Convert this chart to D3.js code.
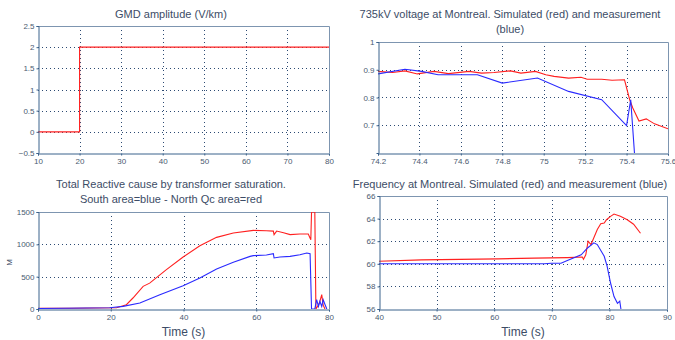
<!DOCTYPE html>
<html>
<head>
<meta charset="utf-8">
<script src="https://cdn.jsdelivr.net/npm/d3@7"></script>
<style>
  body { margin: 0; background: #fff; }
  svg { font-family: "Liberation Sans", Arial, sans-serif; }
  .tick text { fill: #4a5a70; font-size: 8px; }
  .title { fill: #3c4c66; font-size: 11px; }
  .xlabel { fill: #3c4c66; font-size: 12px; }
</style>
</head>
<body>
<div id="chart-area"></div>
<script>
// GMD amplitude (V/km)
var gmdTime = [10, 20, 20, 80];
var gmdValue = [0, 0, 2, 2];

// 735kV voltage at Montreal
var voltSimTime = [74.2, 74.27, 74.33, 74.39, 74.47, 74.54, 74.64, 74.7, 74.76, 74.84, 74.89, 74.96, 75.01, 75.05, 75.12, 75.18, 75.21, 75.28, 75.33, 75.39, 75.415, 75.43, 75.46, 75.495, 75.535, 75.6];
var voltSimValue = [0.894, 0.89, 0.896, 0.885, 0.894, 0.886, 0.894, 0.888, 0.89, 0.896, 0.888, 0.894, 0.882, 0.876, 0.87, 0.873, 0.866, 0.866, 0.862, 0.864, 0.792, 0.762, 0.715, 0.723, 0.705, 0.687];
var voltMeasTime = [74.2, 74.33, 74.41, 74.49, 74.68, 74.8, 74.97, 75.12, 75.28, 75.4, 75.42, 75.44];
var voltMeasValue = [0.885, 0.902, 0.894, 0.882, 0.882, 0.852, 0.87, 0.822, 0.792, 0.699, 0.792, 0.58];

// Total reactive power (Mvar)
var qNorthTime = [0, 9, 21.6, 24.3, 26.1, 28.9, 30.7, 35.3, 39.9, 44.5, 49.1, 53.7, 59.2, 62.8, 64.7, 64.9, 65.6, 67.5, 69.3, 72, 74.3, 75, 75.2, 76.1, 76.4, 77.1, 77.5, 78, 78.4, 78.9];
var qNorthValue = [12, 12, 20, 67, 170, 350, 400, 608, 804, 979, 1108, 1175, 1216, 1210, 1205, 1150, 1205, 1180, 1150, 1160, 1160, 1072, 1500, 1500, 0, 60, 118, 222, 60, 0];
var qSouthTime = [0, 19.7, 23.4, 28, 33.5, 39.9, 44.5, 49.1, 53.7, 58.3, 59.2, 62.8, 64.7, 64.9, 66.5, 69.3, 72, 73.9, 74.8, 75.2, 76.1, 76.6, 77.1, 77.5, 78, 78.4, 78.9, 79.4];
var qSouthValue = [8, 20, 40, 93, 222, 361, 480, 619, 722, 814, 825, 835, 856, 789, 804, 814, 840, 866, 855, 0, 0, 144, 40, 118, 40, 144, 70, 0];

// Frequency at Montreal
var freqSimTime = [40, 47.4, 60.7, 67, 72.7, 75.3, 75.5, 75.9, 76.3, 76.8, 77.3, 77.9, 78.5, 79.1, 79.5, 80.2, 80.8, 81.9, 83.1, 84.2, 85.4];
var freqSimValue = [60.23, 60.35, 60.44, 60.5, 60.55, 60.6, 60.4, 60.8, 62, 61.7, 62.3, 63.04, 63.54, 63.6, 63.9, 64.2, 64.4, 64.2, 63.9, 63.5, 62.7];
var freqMeasTime = [40, 68.7, 69.9, 71.6, 72.7, 75.1, 76.2, 77.3, 77.9, 79.1, 79.6, 80.2, 80.8, 81.4, 81.8, 82];
var freqMeasValue = [60, 60, 60.05, 60.05, 60.3, 60.8, 61.4, 61.86, 61.7, 60.67, 59.8, 58.3, 57.1, 56.5, 56.7, 56];

var gmdXTicks = [10, 20, 30, 40, 50, 60, 70, 80];
var gmdYTicks = [-0.5, 0, 0.5, 1, 1.5, 2, 2.5];
var voltXTicks = [74.2, 74.4, 74.6, 74.8, 75, 75.2, 75.4, 75.6];
var voltYTicks = [0.7, 0.8, 0.9, 1];
var qXTicks = [0, 20, 40, 60, 80];
var qYTicks = [0, 500, 1000, 1500];
var freqXTicks = [40, 50, 60, 70, 80, 90];
var freqYTicks = [56, 58, 60, 62, 64, 66];

var svg = d3.select("#chart-area")
    .append("svg")
    .attr("width", 675)
    .attr("height", 340);

var axisColor = "#3b628c";
var gridColor = "#2c4a73";

function panel(opt) {
    var x = d3.scaleLinear().domain(opt.xDomain).range([opt.left, opt.right]);
    var y = d3.scaleLinear().domain(opt.yDomain).range([opt.bottom, opt.top]);

    var clipId = "clip" + opt.id;
    svg.append("clipPath").attr("id", clipId)
        .append("rect")
        .attr("x", opt.left).attr("y", opt.top)
        .attr("width", opt.right - opt.left).attr("height", opt.bottom - opt.top);

    // grid
    var grid = svg.append("g");
    grid.selectAll(".vg")
        .data(opt.xTicks.filter(function(t) { return t > opt.xDomain[0] && t < opt.xDomain[1]; }))
        .enter().append("line")
        .attr("x1", function(d) { return Math.round(x(d)) + 0.5; })
        .attr("x2", function(d) { return Math.round(x(d)) + 0.5; })
        .attr("y1", opt.top).attr("y2", opt.bottom)
        .attr("stroke", gridColor).attr("stroke-dasharray", "1,3");
    grid.selectAll(".hg")
        .data(opt.yTicks.filter(function(t) { return t > opt.yDomain[0] && t < opt.yDomain[1]; }))
        .enter().append("line")
        .attr("y1", function(d) { return Math.round(y(d)) + 0.5; })
        .attr("y2", function(d) { return Math.round(y(d)) + 0.5; })
        .attr("x1", opt.left).attr("x2", opt.right)
        .attr("stroke", gridColor).attr("stroke-dasharray", "1,3");

    // frame top/right
    svg.append("path")
        .attr("d", "M" + opt.left + "," + (opt.top + 0.5) + "H" + (opt.right + 0.5) + "V" + opt.bottom)
        .attr("fill", "none").attr("stroke", "#7d95b0");

    // series
    opt.series.forEach(function(s) {
        var line = d3.line()
            .x(function(d) { return x(d[0]); })
            .y(function(d) { return y(d[1]); });
        svg.append("path")
            .datum(d3.zip(s.t, s.v))
            .attr("clip-path", "url(#" + clipId + ")")
            .attr("fill", "none")
            .attr("stroke", s.color)
            .attr("stroke-width", 1.1)
            .attr("d", line);
    });

    // axes
    var xAxis = svg.append("g")
        .attr("transform", "translate(0," + (opt.bottom + 0.5) + ")")
        .call(d3.axisBottom(x).tickValues(opt.xTicks).tickSize(2).tickPadding(3).tickFormat(d3.format("")));
    var yAxis = svg.append("g")
        .attr("transform", "translate(" + (opt.left + 0.5) + ",0)")
        .call(d3.axisLeft(y).tickValues(opt.yTicks).tickSize(2).tickPadding(2).tickFormat(d3.format("")));
    [xAxis, yAxis].forEach(function(a) {
        a.select(".domain").attr("stroke", axisColor);
        a.selectAll(".tick line").attr("stroke", axisColor);
    });

    // titles
    opt.title.forEach(function(t, i) {
        svg.append("text")
            .attr("class", "title")
            .attr("x", opt.titleX)
            .attr("y", opt.titleY + i * 15)
            .attr("text-anchor", "middle")
            .text(t);
    });
    if (opt.xLabel) {
        svg.append("text")
            .attr("class", "xlabel")
            .attr("x", (opt.left + opt.right) / 2)
            .attr("y", 336)
            .attr("text-anchor", "middle")
            .text(opt.xLabel);
    }
    if (opt.yLabel) {
        svg.append("text")
            .attr("class", "tick")
            .attr("transform", "translate(12," + ((opt.top + opt.bottom) / 2 + 2) + ") rotate(-90)")
            .attr("text-anchor", "middle")
            .attr("fill", "#3c4c66")
            .style("font-size", "8px")
            .text(opt.yLabel);
    }
}

panel({
    id: 1, left: 38, right: 329, top: 26, bottom: 153,
    xDomain: [10, 80], yDomain: [-0.5, 2.5], xTicks: gmdXTicks, yTicks: gmdYTicks,
    title: ["GMD amplitude (V/km)"], titleX: 171, titleY: 18,
    series: [{ t: gmdTime, v: gmdValue, color: "#ff2020" }]
});

panel({
    id: 2, left: 378, right: 668, top: 42, bottom: 153,
    xDomain: [74.2, 75.6], yDomain: [0.6, 1], xTicks: voltXTicks, yTicks: voltYTicks,
    title: ["735kV voltage at Montreal. Simulated (red) and measurement", "(blue)"], titleX: 510, titleY: 18,
    series: [
        { t: voltSimTime, v: voltSimValue, color: "#ff2020" },
        { t: voltMeasTime, v: voltMeasValue, color: "#2a2aff" }
    ]
});

panel({
    id: 3, left: 38, right: 329, top: 212, bottom: 309,
    xDomain: [0, 80], yDomain: [0, 1500], xTicks: qXTicks, yTicks: qYTicks,
    title: ["Total Reactive cause by transformer saturation.", "South area=blue - North Qc area=red"], titleX: 171, titleY: 188,
    xLabel: "Time (s)", yLabel: "M",
    series: [
        { t: qNorthTime, v: qNorthValue, color: "#ff2020" },
        { t: qSouthTime, v: qSouthValue, color: "#2a2aff" }
    ]
});

panel({
    id: 4, left: 379, right: 667, top: 196, bottom: 309,
    xDomain: [40, 90], yDomain: [56, 66], xTicks: freqXTicks, yTicks: freqYTicks,
    title: ["Frequency at Montreal. Simulated (red) and measurement (blue)"], titleX: 510, titleY: 188,
    xLabel: "Time (s)",
    series: [
        { t: freqSimTime, v: freqSimValue, color: "#ff2020" },
        { t: freqMeasTime, v: freqMeasValue, color: "#2a2aff" }
    ]
});
</script>
</body>
</html>
